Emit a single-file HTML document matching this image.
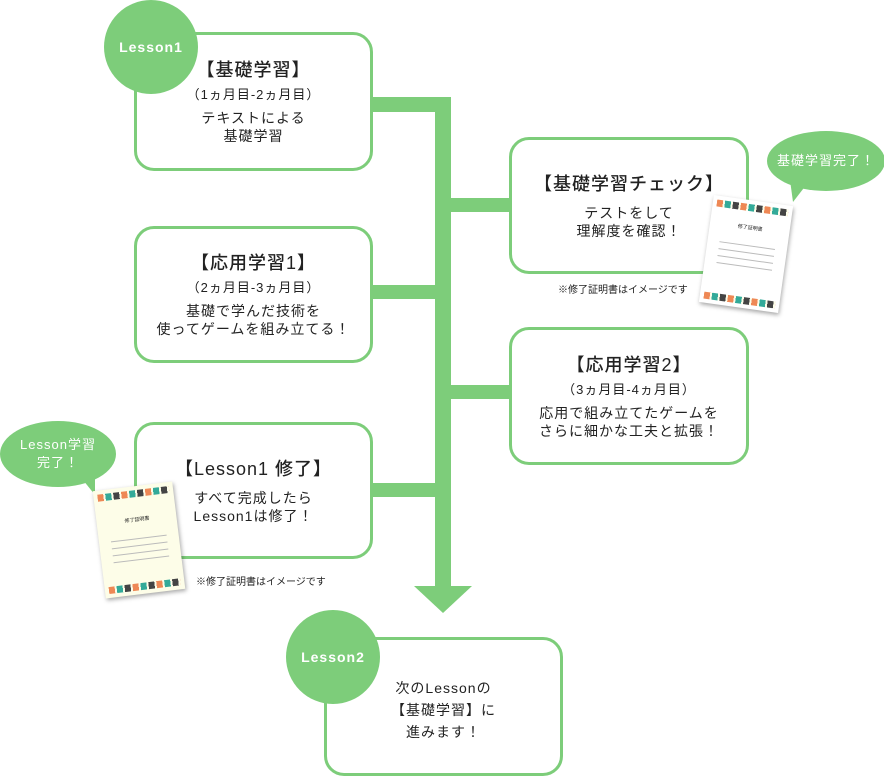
<!DOCTYPE html>
<html><head><meta charset="utf-8"><style>
body{margin:0;width:884px;height:777px;background:#fff;position:relative;overflow:hidden;font-family:"Liberation Sans","Noto Sans CJK JP",sans-serif;color:#222}
.g{background:#7dcd7a;position:absolute}
.box{position:absolute;border:3px solid #7dcd7a;border-radius:20px;background:#fff;box-sizing:border-box;text-align:center;display:flex;flex-direction:column;justify-content:center;align-items:center}
.t{font-size:18px;letter-spacing:1px;line-height:24px;font-weight:500}
.s{font-size:13px;letter-spacing:1px;line-height:20px;margin:3px 0 4px}
.b{font-size:14px;letter-spacing:1px;line-height:18px}
.circ{position:absolute;width:94px;height:94px;border-radius:50%;background:#7dcd7a;color:#fff;font-size:14px;font-weight:bold;letter-spacing:1px;display:flex;align-items:center;justify-content:center}
.note{position:absolute;font-size:10px;color:#222}
.bub{position:absolute;background:#7dcd7a;color:#fff;border-radius:50%;display:flex;align-items:center;justify-content:center;text-align:center;font-size:13px;letter-spacing:1px;line-height:18px}
.cert{position:absolute;background:#fdfde8;box-shadow:1px 2px 4px rgba(0,0,0,.35);width:80px;height:108px}
.cert .row{position:absolute;left:4px;right:4px;height:7px;background:repeating-linear-gradient(90deg,#e85 0 6px,#fdfde8 6px 8px,#3a9 8px 14px,#fdfde8 14px 16px,#444 16px 22px,#fdfde8 22px 24px)}
.cert .ln{position:absolute;left:12px;right:12px;height:1px;background:#bbb}
</style></head><body>
<div class="g" style="left:435px;top:97px;width:16px;height:492px"></div>
<svg style="position:absolute;left:414px;top:586px" width="58" height="28"><polygon points="0,0 58,0 29,27" fill="#7dcd7a"/></svg>
<div class="g" style="left:370px;top:97px;width:70px;height:15px"></div>
<div class="g" style="left:450px;top:198px;width:62px;height:14px"></div>
<div class="g" style="left:370px;top:285px;width:70px;height:14px"></div>
<div class="g" style="left:450px;top:385px;width:62px;height:14px"></div>
<div class="g" style="left:370px;top:483px;width:70px;height:14px"></div>

<div class="box" style="left:134px;top:32px;width:239px;height:139px"><div class="t">【基礎学習】</div><div class="s">（1ヵ月目-2ヵ月目）</div><div class="b">テキストによる<br>基礎学習</div></div>
<div class="circ" style="left:104px;top:0px">Lesson1</div>

<div class="box" style="left:509px;top:137px;width:240px;height:137px"><div class="t">【基礎学習チェック】</div><div class="b" style="margin-top:8px">テストをして<br>理解度を確認！</div></div>
<div class="note" style="left:558px;top:281px">※修了証明書はイメージです</div>

<div class="box" style="left:134px;top:226px;width:239px;height:137px"><div class="t">【応用学習1】</div><div class="s">（2ヵ月目-3ヵ月目）</div><div class="b">基礎で学んだ技術を<br>使ってゲームを組み立てる！</div></div>

<div class="box" style="left:509px;top:327px;width:240px;height:138px"><div class="t">【応用学習2】</div><div class="s">（3ヵ月目-4ヵ月目）</div><div class="b">応用で組み立てたゲームを<br>さらに細かな工夫と拡張！</div></div>

<div class="box" style="left:134px;top:422px;width:239px;height:137px"><div class="t" style="margin-bottom:8px">【Lesson1 修了】</div><div class="b">すべて完成したら<br>Lesson1は修了！</div></div>
<div class="note" style="left:196px;top:573px">※修了証明書はイメージです</div>

<div class="box" style="left:324px;top:637px;width:239px;height:139px"><div class="b" style="line-height:22px;margin-top:6px">次のLessonの<br>【基礎学習】に<br>進みます！</div></div>
<div class="circ" style="left:286px;top:610px">Lesson2</div>

<svg style="position:absolute;left:780px;top:180px" width="40" height="30"><polygon points="10,0 30,0 13,22" fill="#7dcd7a"/></svg>
<div class="bub" style="left:767px;top:131px;width:118px;height:60px">基礎学習完了！</div>
<svg style="position:absolute;left:70px;top:470px" width="40" height="30"><polygon points="5,0 25,0 25,25" fill="#7dcd7a"/></svg>
<div class="bub" style="left:0px;top:421px;width:116px;height:66px">Lesson学習<br>完了！</div>

<div class="cert" style="left:706px;top:200px;transform:rotate(8deg);background:#fff">
<div class="row" style="top:4px"></div><div class="row" style="bottom:4px"></div>
<div style="position:absolute;left:28px;top:24px;font-size:5px">修了証明書</div>
<div class="ln" style="top:45px"></div><div class="ln" style="top:52px"></div><div class="ln" style="top:59px"></div><div class="ln" style="top:66px"></div>
</div>
<div class="cert" style="left:99px;top:486px;transform:rotate(-7deg)">
<div class="row" style="top:4px"></div><div class="row" style="bottom:4px"></div>
<div style="position:absolute;left:28px;top:30px;font-size:5px">修了証明書</div>
<div class="ln" style="top:52px"></div><div class="ln" style="top:59px"></div><div class="ln" style="top:66px"></div><div class="ln" style="top:73px"></div>
</div>
</body></html>
